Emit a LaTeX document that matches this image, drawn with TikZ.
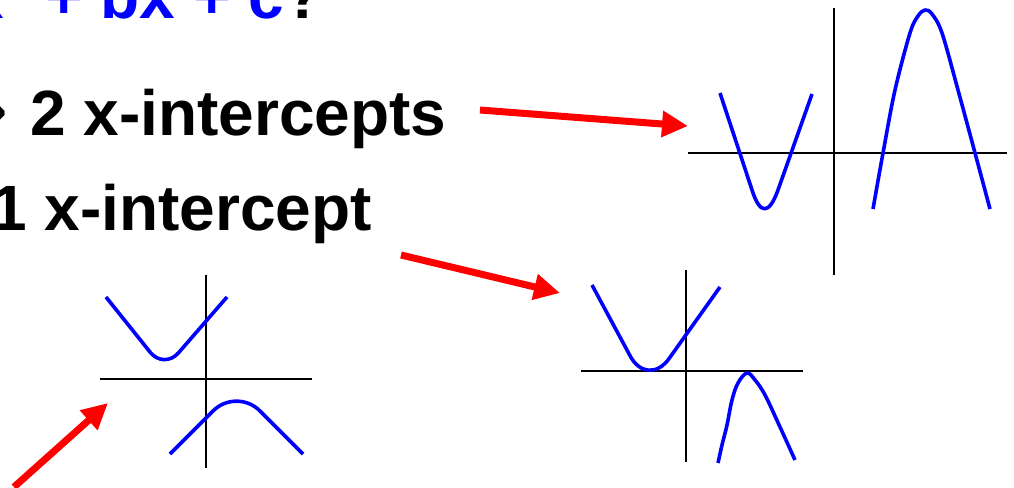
\documentclass[tikz,border=0pt]{standalone}
\usepackage{fontspec}
\setmainfont{Liberation Sans}
\newfontfamily\symfont{DejaVu Sans}
\usetikzlibrary{arrows.meta}
\definecolor{pblue}{RGB}{0,0,255}
\definecolor{pred}{RGB}{255,0,0}
\tikzset{
  bigtext/.style={inner sep=0pt, font=\fontsize{64}{70}\selectfont\bfseries},
  axis/.style={draw=black, line width=1.6pt},
  curve/.style={draw=pblue, line width=3.6pt, line join=round},
  pointer/.style={draw=pred, line width=7pt, -{Triangle[length=26pt,width=25pt]}, shorten >=0pt}
}
\begin{document}
\begin{tikzpicture}[x=1pt,y=-1pt]
\useasboundingbox (0,0) rectangle (1014,487);
\clip (0,0) rectangle (1014,487);
\fill[white] (0,0) rectangle (1014,487);
% texts
\node[bigtext, anchor=base east, text=pblue] (title) at (284,18.5) {x\raisebox{0.5em}{\fontsize{42}{42}\selectfont 2} + bx + c};
\node[bigtext, anchor=base west] (qm) at (title.base east) {?};
\node[bigtext, anchor=base east] (arr) at (8,133) {\symfont →};
\node[bigtext, anchor=base west] (two) at (30,135) {2 x-intercepts};
\node[bigtext, anchor=base west] (one) at (-9,230) {1 x-intercept};
% graph 1: two x-intercepts
\draw[axis] (834,8) -- (834,275);
\draw[axis] (688,153) -- (1007,153);
\draw[curve] (720,93) -- (752,190) .. controls (760,215) and (769,215) .. (778,190) -- (812,94);
\draw[curve] plot[smooth, tension=0.55] coordinates {(873,209) (883,153) (895,90) (910,33) (918,16) (925,10) (932,14) (942,33) (958,90) (975,153) (990,209)};
% graph 2: no x-intercepts
\draw[axis] (206,275) -- (206,468);
\draw[axis] (100,379) -- (312,379);
\draw[curve, rounded corners=22pt] (106,297) -- (164,369.5) -- (227,297);
\draw[curve, rounded corners=33pt] (170,454) -- (236.5,387.5) -- (303,454);
% graph 3: one x-intercept
\draw[axis] (686,270) -- (686,462);
\draw[axis] (581,371) -- (803,371);
\draw[curve, rounded corners=37pt] (592,285) -- (647.7,388.6) -- (720,287);
\draw[curve] plot[smooth, tension=0.6] coordinates {(718,463) (722,445) (727,425) (732,400) (738,383) (747,373) (755,380) (765,395) (780,427) (795,460)};
% pointers
\coordinate (p1s) at (480,110);
\coordinate (p1e) at (688,126);
\coordinate (p2s) at (401,255);
\coordinate (p2e) at (560,293);
\coordinate (p3s) at (14,487);
\coordinate (p3e) at (108,403);
\draw[pointer] (p1s) -- (p1e);
\draw[pointer] (p2s) -- (p2e);
\draw[pointer] (p3s) -- (p3e);
\end{tikzpicture}
\end{document}
